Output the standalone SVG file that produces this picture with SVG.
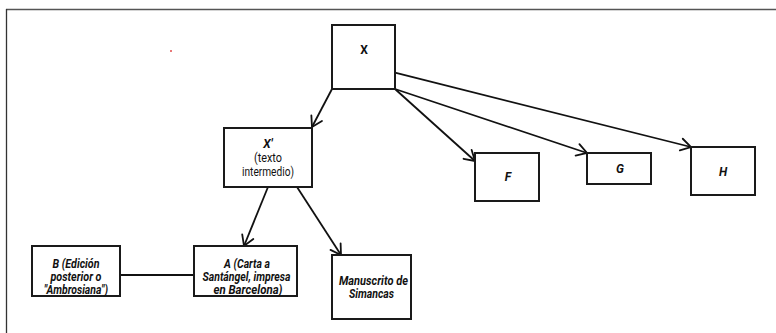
<svg xmlns="http://www.w3.org/2000/svg" width="776" height="333" viewBox="0 0 776 333">
<defs>
<marker id="arr" markerUnits="userSpaceOnUse" markerWidth="14" markerHeight="14" viewBox="-11 -7 13 14" refX="0" refY="0" orient="auto" overflow="visible">
<path d="M-10,-6 L0,0 L-10,6" fill="none" stroke="#111" stroke-width="1.8" stroke-linecap="round" stroke-linejoin="miter"/>
</marker>
<style>
.box{fill:#fff;stroke:#1a1a1a;stroke-width:2}
.t{font-family:Roboto,"Liberation Sans",sans-serif;font-size:12px;fill:#111;text-anchor:middle}
.bi{font-style:italic;font-weight:700}
.b{font-weight:700}
.c{fill:none;stroke:#111;stroke-width:1.8}
</style>
</defs>
<rect width="776" height="333" fill="#fff"/>
<g id="frame">
<line x1="6" y1="9.5" x2="776" y2="9.5" stroke="#555" stroke-width="1.5"/>
<line x1="6.5" y1="9" x2="6.5" y2="333" stroke="#333" stroke-width="1.3"/>
</g>
<rect x="170" y="50" width="2" height="2" fill="#e87878"/>
<g id="connectors">
<line class="c" x1="332" y1="89" x2="312" y2="127" marker-end="url(#arr)"/>
<line class="c" x1="395" y1="89" x2="475" y2="161" marker-end="url(#arr)"/>
<line class="c" x1="395" y1="89" x2="587" y2="153" marker-end="url(#arr)"/>
<line class="c" x1="395" y1="72.7" x2="691" y2="147" marker-end="url(#arr)"/>
<line class="c" x1="268" y1="187" x2="244" y2="246" marker-end="url(#arr)"/>
<line class="c" x1="297" y1="187" x2="341" y2="255" marker-end="url(#arr)"/>
<line class="c" x1="120" y1="275" x2="194" y2="275"/>
</g>
<g id="nodeX">
<rect class="box" x="332" y="25" width="63" height="64"/>
<text class="t b" x="364" y="54">X</text>
</g>
<g id="nodeXp">
<rect class="box" x="224" y="128" width="88" height="59"/>
<text class="t bi" x="268" y="148">X'</text>
<text class="t" x="268" y="162" textLength="28" lengthAdjust="spacingAndGlyphs">(texto</text>
<text class="t" x="268" y="176" textLength="52" lengthAdjust="spacingAndGlyphs">intermedio)</text>
</g>
<g id="nodeF">
<rect class="box" x="475" y="153" width="64" height="48"/>
<text class="t bi" x="508" y="181">F</text>
</g>
<g id="nodeG">
<rect class="box" x="587" y="153" width="64" height="31"/>
<text class="t bi" x="620" y="173">G</text>
</g>
<g id="nodeH">
<rect class="box" x="691" y="147" width="64" height="48"/>
<text class="t bi" x="723" y="176">H</text>
</g>
<g id="nodeB">
<rect class="box" x="32" y="246" width="88" height="50"/>
<text class="t bi" x="76" y="268" textLength="47" lengthAdjust="spacingAndGlyphs">B (Edición</text>
<text class="t bi" x="76" y="281" textLength="51" lengthAdjust="spacingAndGlyphs">posterior o</text>
<text class="t bi" x="76" y="294" textLength="64" lengthAdjust="spacingAndGlyphs">"Ambrosiana")</text>
</g>
<g id="nodeA">
<rect class="box" x="194" y="246" width="103" height="50"/>
<text class="t bi" x="247" y="268" textLength="46" lengthAdjust="spacingAndGlyphs">A (Carta a</text>
<text class="t bi" x="246.5" y="281" textLength="88" lengthAdjust="spacingAndGlyphs">Santángel, impresa</text>
<text class="t bi" x="248" y="294" textLength="69" lengthAdjust="spacingAndGlyphs">en Barcelona)</text>
</g>
<g id="nodeM">
<rect class="box" x="332" y="255" width="79" height="64"/>
<text class="t bi" x="373.5" y="285" textLength="69" lengthAdjust="spacingAndGlyphs">Manuscrito de</text>
<text class="t bi" x="371.5" y="298" textLength="45" lengthAdjust="spacingAndGlyphs">Simancas</text>
</g>
</svg>
